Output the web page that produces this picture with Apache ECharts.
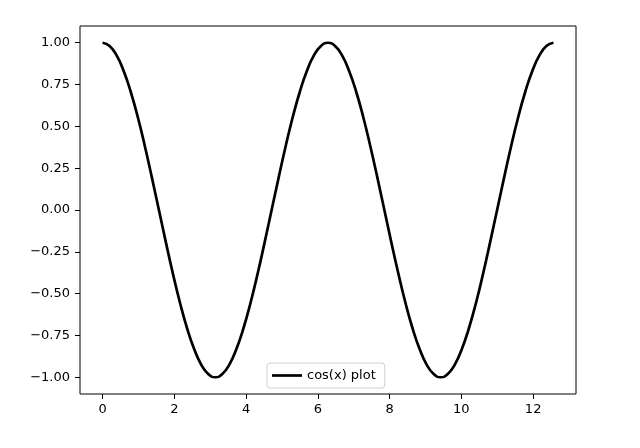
<!DOCTYPE html>
<html>
<head>
<meta charset="utf-8">
<script src="https://cdn.jsdelivr.net/npm/echarts@6/dist/echarts.min.js"></script>
<style>html,body{margin:0;padding:0;background:#fff}#c{width:640px;height:448px}</style>
</head>
<body>
<div id="c"></div>
<script>
var seriesName = 'cos(x) plot';
var xValues = [0.000,0.196,0.393,0.589,0.785,0.982,1.178,1.374,1.571,1.767,1.963,2.160,2.356,2.553,2.749,2.945,3.142,3.338,3.534,3.731,3.927,4.123,4.320,4.516,4.712,4.909,5.105,5.301,5.498,5.694,5.890,6.087,6.283,6.480,6.676,6.872,7.069,7.265,7.461,7.658,7.854,8.050,8.247,8.443,8.639,8.836,9.032,9.228,9.425,9.621,9.817,10.014,10.210,10.407,10.603,10.799,10.996,11.192,11.388,11.585,11.781,11.977,12.174,12.370,12.566];
var yValues = [1,0.981,0.924,0.831,0.707,0.556,0.383,0.195,0,-0.195,-0.383,-0.556,-0.707,-0.831,-0.924,-0.981,-1,-0.981,-0.924,-0.831,-0.707,-0.556,-0.383,-0.195,0,0.195,0.383,0.556,0.707,0.831,0.924,0.981,1,0.981,0.924,0.831,0.707,0.556,0.383,0.195,0,-0.195,-0.383,-0.556,-0.707,-0.831,-0.924,-0.981,-1,-0.981,-0.924,-0.831,-0.707,-0.556,-0.383,-0.195,0,0.195,0.383,0.556,0.707,0.831,0.924,0.981,1];
var xTicks = [0,2,4,6,8,10,12];
var yTicks = [-1,-0.75,-0.5,-0.25,0,0.25,0.5,0.75,1];

var data = xValues.map(function(x,i){return [x, yValues[i]];});
var font = 'DejaVu Sans';
var chart = echarts.init(document.getElementById('c'), null, {renderer:'canvas'});
chart.setOption({
  animation:false,
  backgroundColor:'#fff',
  grid:{left:80,right:64,top:26,bottom:54,show:true,borderColor:'#000',borderWidth:1,backgroundColor:'transparent',containLabel:false},
  legend:{
    show:true, left:267, top:363, orient:'horizontal',
    padding:[6,9,6,5], borderColor:'#d0d0d0', borderWidth:1, borderRadius:3, backgroundColor:'rgba(255,255,255,0.8)',
    itemWidth:30, itemHeight:14, itemGap:8,
    textStyle:{fontFamily:font,fontSize:13,color:'#000'},
    data:[{name:seriesName, icon:'path://M0,6 L30,6 L30,8.7 L0,8.7 Z', itemStyle:{color:'#000'}}]
  },
  xAxis:{
    type:'value', min:-0.6283, max:13.1947, position:'bottom',
    axisLine:{show:false, onZero:false},
    splitLine:{show:false},
    axisTick:{show:true, inside:false, length:5, customValues:xTicks, lineStyle:{color:'#000',width:1}},
    axisLabel:{show:true, customValues:xTicks, margin:9, fontFamily:font, fontSize:13, color:'#000', formatter:function(v){return String(v);}}
  },
  yAxis:{
    type:'value', min:-1.1, max:1.1, position:'left',
    axisLine:{show:false, onZero:false},
    splitLine:{show:false},
    axisTick:{show:true, inside:false, length:5, customValues:yTicks, lineStyle:{color:'#000',width:1}},
    axisLabel:{show:true, customValues:yTicks, margin:10, fontFamily:font, fontSize:13, color:'#000', formatter:function(v){var s=Math.abs(v).toFixed(2); return (v<0?'\u2212':'')+s;}}
  },
  series:[{
    name:seriesName, type:'line', data:data, showSymbol:false, symbol:'none',
    lineStyle:{color:'#000', width:2.7}, itemStyle:{color:'#000'}, smooth:0.5
  }]
});
</script>
</body>
</html>
